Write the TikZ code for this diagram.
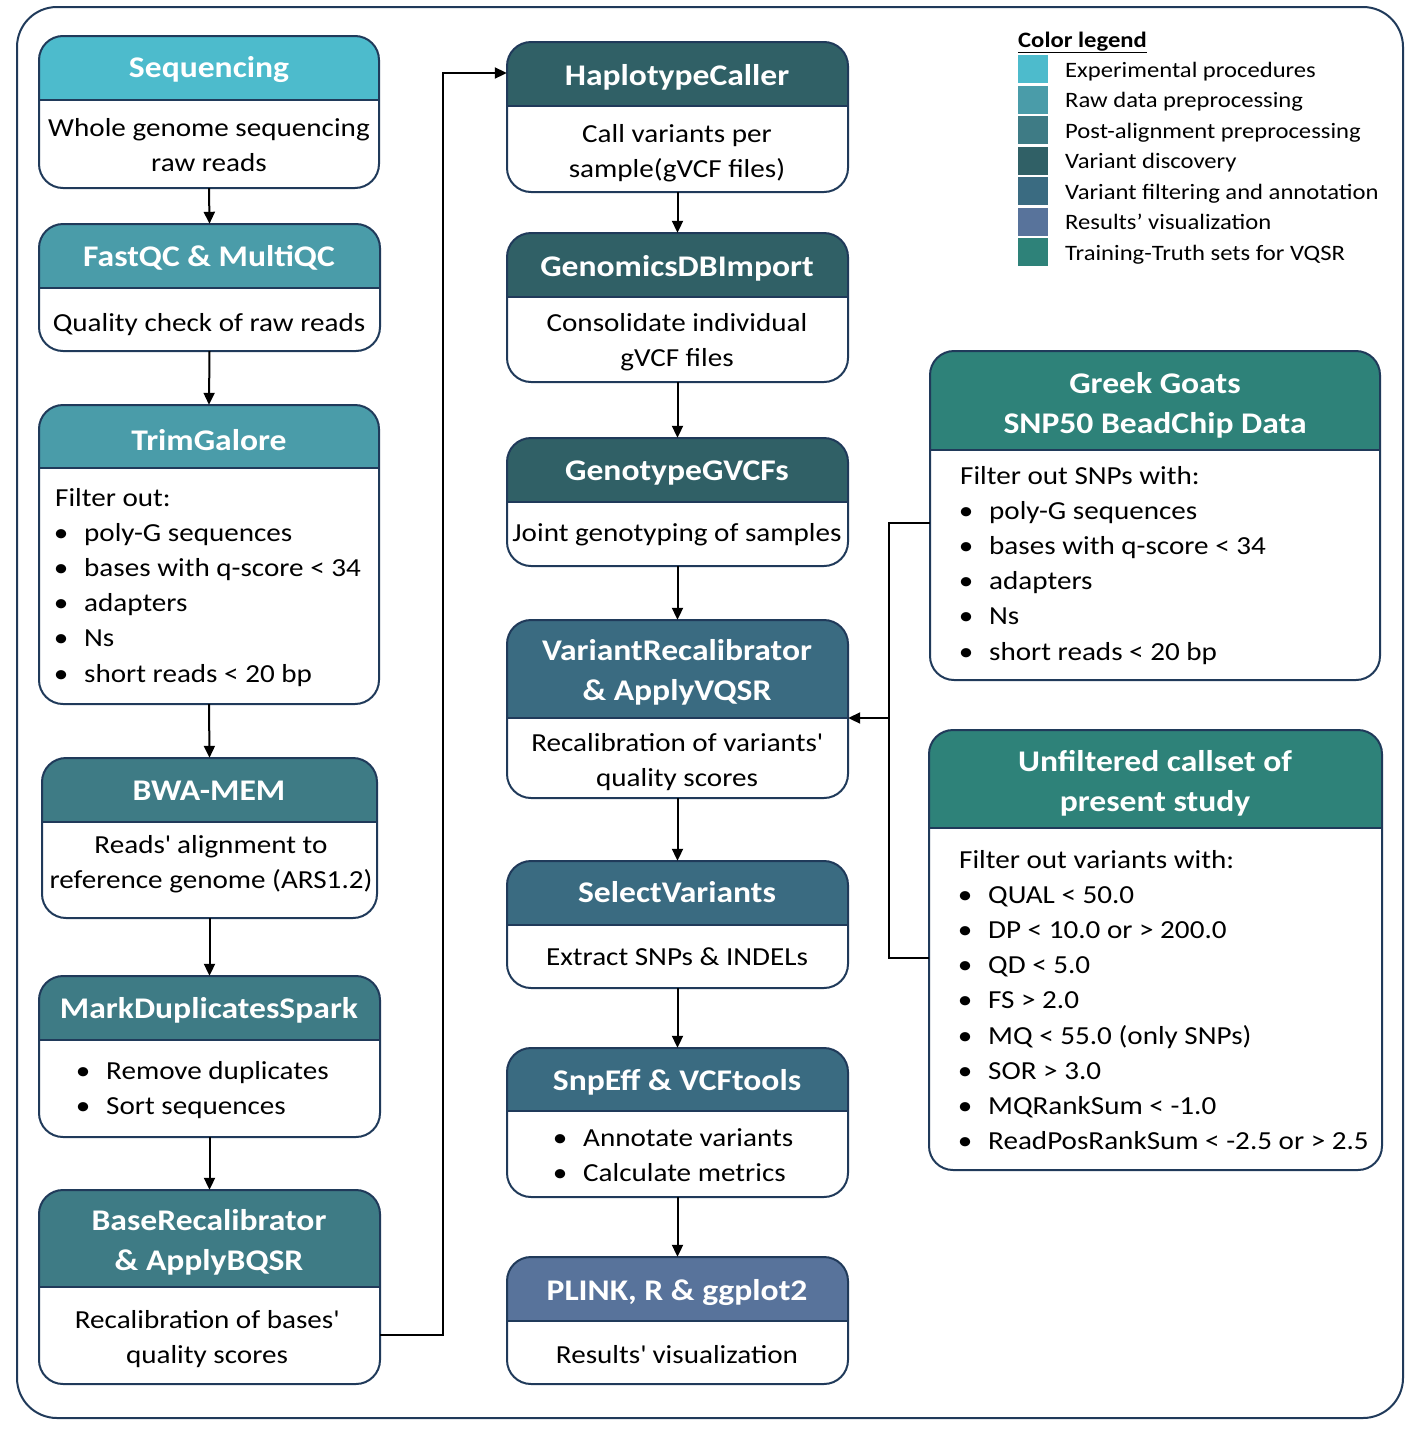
\documentclass[tikz,border=0pt]{standalone}
\usepackage{fontspec}
\setmainfont{Carlito}[FakeStretch=1.12]
\usetikzlibrary{arrows.meta,fit}

\definecolor{navy}{HTML}{203A5A}
\definecolor{expcol}{HTML}{4DBBCC}
\definecolor{rawcol}{HTML}{4A9CA9}
\definecolor{postcol}{HTML}{3E7B85}
\definecolor{disccol}{HTML}{306066}
\definecolor{filtcol}{HTML}{3A6B81}
\definecolor{rescol}{HTML}{58739B}
\definecolor{traincol}{HTML}{2E8279}

\newcommand{\titlefont}{\fontsize{30}{40}\selectfont\bfseries}
\newcommand{\bodyfont}{\fontsize{26}{35.2}\selectfont}
\newcommand{\legfont}{\fontsize{22}{30}\selectfont}
\newcommand{\bul}{\makebox[12pt]{\textbullet}\hspace{17pt}}
\newcommand{\q}{\textquotesingle}

% box with coloured header: name, x1, y1, x2, y2, header bottom, colour
\newcommand{\flowbox}[7]{%
  \begin{scope}
    \clip[rounded corners=24pt] (#2,#3) rectangle (#4,#5);
    \fill[#7] (#2,#3) rectangle (#4,#6);
  \end{scope}
  \draw[boxline] (#2,#6) -- (#4,#6);
  \draw[boxline,rounded corners=24pt] (#2,#3) rectangle (#4,#5);
  \node[fit={(#2,#3) (#4,#5)},inner sep=0pt] (#1) {};
}

\begin{document}
\begin{tikzpicture}[x=1pt,y=-1pt,
  boxline/.style={draw=navy,line width=2pt},
  title/.style={anchor=base,text=white,font=\titlefont,inner sep=0pt},
  body/.style={anchor=base,font=\bodyfont,inner sep=0pt},
  list/.style={anchor=base west,font=\bodyfont,inner sep=0pt},
  legtext/.style={anchor=base west,font=\legfont,inner sep=0pt},
  flow/.style={line width=2pt,-{Triangle[length=12pt,width=11pt]}},
  link/.style={line width=2pt}]
\useasboundingbox (0,0) rectangle (1418,1430);
\draw[navy,line width=2pt,rounded corners=40pt] (17,7) rectangle (1403,1418);

% left column
\flowbox{seq}{39}{36}{379}{188}{100}{expcol}
\flowbox{fastqc}{39}{224}{380}{351}{288}{rawcol}
\flowbox{trim}{39}{405}{379}{704}{468}{rawcol}
\flowbox{bwa}{42}{758}{377}{918}{822}{postcol}
\flowbox{markdup}{39}{976}{380}{1137}{1040}{postcol}
\flowbox{bqsr}{39}{1190}{380}{1384}{1287}{postcol}

\node[title] (seqT) at (209,77) {Sequencing};
\node[body] (seqB) at (209,136) {\begin{tabular}[t]{@{}c@{}}Whole genome sequencing\\raw reads\end{tabular}};
\node[title] (fastqcT) at (209,266) {FastQC \& MultiQC};
\node[body] (fastqcB) at (209,331) {Quality check of raw reads};
\node[title] (trimT) at (209,450) {TrimGalore};
\node[list] (trimB) at (55,506) {\begin{tabular}[t]{@{}l@{}}Filter out:\\
  \bul poly-G sequences\\ \bul bases with q-score < 34\\ \bul adapters\\ \bul Ns\\ \bul short reads < 20 bp\end{tabular}};
\node[title] (bwaT) at (209,800) {BWA-MEM};
\node[body] (bwaB) at (211,853) {\begin{tabular}[t]{@{}c@{}}Reads\q{} alignment to\\reference genome (ARS1.2)\end{tabular}};
\node[title] (markdupT) at (209,1018) {MarkDuplicatesSpark};
\node[list] (markdupB) at (77,1079) {\begin{tabular}[t]{@{}l@{}}\bul Remove duplicates\\ \bul Sort sequences\end{tabular}};
\node[title] (bqsrT) at (209,1230) {\begin{tabular}[t]{@{}c@{}}BaseRecalibrator\\\& ApplyBQSR\end{tabular}};
\node[body] (bqsrB) at (207,1328) {\begin{tabular}[t]{@{}c@{}}Recalibration of bases\q\\quality scores\end{tabular}};

% middle column
\flowbox{hap}{507}{42}{848}{192}{106}{disccol}
\flowbox{gdb}{507}{233}{848}{382}{297}{disccol}
\flowbox{ggv}{507}{438}{848}{566}{502}{disccol}
\flowbox{vr}{507}{620}{848}{798}{718}{filtcol}
\flowbox{sel}{507}{861}{848}{988}{925}{filtcol}
\flowbox{snpeff}{507}{1048}{848}{1197}{1111}{filtcol}
\flowbox{plink}{507}{1257}{848}{1384}{1321}{rescol}

\node[title] (hapT) at (677,85) {HaplotypeCaller};
\node[body] (hapB) at (677,142) {\begin{tabular}[t]{@{}c@{}}Call variants per\\sample(gVCF files)\end{tabular}};
\node[title] (gdbT) at (677,276) {GenomicsDBImport};
\node[body] (gdbB) at (677,331) {\begin{tabular}[t]{@{}c@{}}Consolidate individual\\gVCF files\end{tabular}};
\node[title] (ggvT) at (677,480) {GenotypeGVCFs};
\node[body] (ggvB) at (677,541) {Joint genotyping of samples};
\node[title] (vrT) at (677,660) {\begin{tabular}[t]{@{}c@{}}VariantRecalibrator\\\& ApplyVQSR\end{tabular}};
\node[body] (vrB) at (677,751) {\begin{tabular}[t]{@{}c@{}}Recalibration of variants\q\\quality scores\end{tabular}};
\node[title] (selT) at (677,902) {SelectVariants};
\node[body] (selB) at (677,965) {Extract SNPs \& INDELs};
\node[title] (snpeffT) at (677,1090) {SnpEff \& VCFtools};
\node[list] (snpeffB) at (554,1146) {\begin{tabular}[t]{@{}l@{}}\bul Annotate variants\\ \bul Calculate metrics\end{tabular}};
\node[title] (plinkT) at (677,1300) {PLINK, R \& ggplot2};
\node[body] (plinkB) at (677,1363) {Results\q{} visualization};

% right column
\flowbox{greek}{930}{351}{1380}{680}{450}{traincol}
\flowbox{unf}{929}{730}{1382}{1170}{828}{traincol}

\node[title] (greekT) at (1155,393) {\begin{tabular}[t]{@{}c@{}}Greek Goats\\SNP50 BeadChip Data\end{tabular}};
\node[list] (greekB) at (960,484) {\begin{tabular}[t]{@{}l@{}}Filter out SNPs with:\\
  \bul poly-G sequences\\ \bul bases with q-score < 34\\ \bul adapters\\ \bul Ns\\ \bul short reads < 20 bp\end{tabular}};
\node[title] (unfT) at (1155,771) {\begin{tabular}[t]{@{}c@{}}Unfiltered callset of\\present study\end{tabular}};
\node[list] (unfB) at (959,868) {\begin{tabular}[t]{@{}l@{}}Filter out variants with:\\
  \bul QUAL < 50.0\\ \bul DP < 10.0 or > 200.0\\ \bul QD < 5.0\\ \bul FS > 2.0\\
  \bul MQ < 55.0 (only SNPs)\\ \bul SOR > 3.0\\ \bul MQRankSum < -1.0\\
  \bul ReadPosRankSum < -2.5 or > 2.5\end{tabular}};

% legend
\node[legtext,font=\legfont\bfseries] (legT) at (1018,47) {\underline{Color legend}};
\fill[expcol] (1018,55) rectangle (1048,83);
\fill[rawcol] (1018,85.5) rectangle (1048,113.5);
\fill[postcol] (1018,116) rectangle (1048,144);
\fill[disccol] (1018,146.5) rectangle (1048,174.5);
\fill[filtcol] (1018,177) rectangle (1048,205);
\fill[rescol] (1018,207.5) rectangle (1048,235.5);
\fill[traincol] (1018,238) rectangle (1048,266);
\node[legtext] (leg1) at (1065,77) {Experimental procedures};
\node[legtext] (leg2) at (1065,107.5) {Raw data preprocessing};
\node[legtext] (leg3) at (1065,138) {Post-alignment preprocessing};
\node[legtext] (leg4) at (1065,168.5) {Variant discovery};
\node[legtext] (leg5) at (1065,199) {Variant filtering and annotation};
\node[legtext] (leg6) at (1065,229.5) {Results’ visualization};
\node[legtext] (leg7) at (1065,260) {Training-Truth sets for VQSR};

% connectors
\draw[flow] (seq.south) -- (fastqc.north);
\draw[flow] (fastqc.south) -- (trim.north);
\draw[flow] (trim.south) -- (bwa.north);
\draw[flow] (bwa.south) -- (markdup.north);
\draw[flow] (markdup.south) -- (bqsr.north);
\draw[flow] (bqsr.east |- 0,1335) -- (443,1335) |- (hap.west |- 0,73);
\draw[flow] (hap.south) -- (gdb.north);
\draw[flow] (gdb.south) -- (ggv.north);
\draw[flow] (ggv.south) -- (vr.north);
\draw[flow] (vr.south) -- (sel.north);
\draw[flow] (sel.south) -- (snpeff.north);
\draw[flow] (snpeff.south) -- (plink.north);
\coordinate (join) at (889,718);
\draw[link] (greek.west |- 0,523) -| (join);
\draw[link] (unf.west |- 0,958) -| (join);
\draw[flow] (join) -- (vr.east |- join);
\end{tikzpicture}
\end{document}
